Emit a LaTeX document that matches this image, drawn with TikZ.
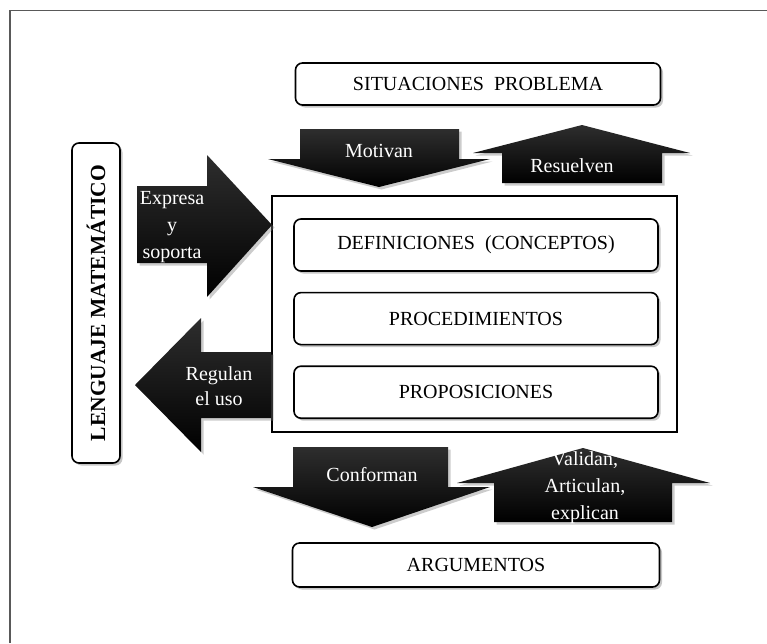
\documentclass[tikz,border=0pt]{standalone}
\usepackage{fontspec}
\setmainfont{Liberation Serif}
\usetikzlibrary{shadows,positioning}

\tikzset{
  box/.style={draw, line width=1.6pt, rounded corners=7pt, fill=white, inner sep=0pt,
    drop shadow={opacity=0.45, shadow xshift=2.5pt, shadow yshift=-2.5pt},
    font=\fontsize{20}{24}\selectfont},
  blockarrow/.style={top color=black!82, middle color=black, bottom color=black,
    drop shadow={opacity=0.4, shadow xshift=2.5pt, shadow yshift=-2.5pt}},
  arrowtext/.style={text=white, align=center, inner sep=0pt, font=\fontsize{20}{27}\selectfont}
}

\begin{document}
\begin{tikzpicture}[x=1pt, y=-1pt]
\useasboundingbox (0,0) rectangle (767,643);

% frame
\draw[black!65, line width=1.5pt] (10,643) -- (10,10.5) -- (767,10.5);

% boxes
\node[box, minimum width=365pt, minimum height=42pt] (sit) at (478,84) {SITUACIONES~~PROBLEMA};
\node[draw, line width=1.2pt, minimum width=405pt, minimum height=236pt] (marco) at (474.5,314) {};
\node[box, minimum width=364pt, minimum height=52pt] (defi) at (476,245) {DEFINICIONES~~(CONCEPTOS)};
\node[box, minimum width=364pt, minimum height=52pt, below=20pt of defi] (proc) {PROCEDIMIENTOS};
\node[box, minimum width=364pt, minimum height=52pt, below=20pt of proc] (prop) {PROPOSICIONES};
\node[box, minimum width=367pt, minimum height=44pt] (arg) at (476,565) {ARGUMENTOS};
\node[box, rotate=90, minimum width=320pt, minimum height=48pt,
  font=\bfseries\fontsize{21.5}{24}\selectfont] (leng) at (96,303) {LENGUAJE MATEMÁTICO};

% block arrows
\path[blockarrow] (300,129) -- (459,129) -- (459,159) -- (490,159) -- (379,187) -- (268,159) -- (300,159) -- cycle;
\node[arrowtext] (motivan) at (379,151) {Motivan};

\path[blockarrow] (582,125) -- (690,153) -- (662,153) -- (662,183) -- (502,183) -- (502,153) -- (473,153) -- cycle;
\node[arrowtext] (resuelven) at (572,166) {Resuelven};

\path[blockarrow] (137,186) -- (207,186) -- (207,155) -- (272,225) -- (207,297) -- (207,263) -- (137,263) -- cycle;
\node[arrowtext] (expresa) at (172,227) {Expresa\\y\\soporta};

\path[blockarrow] (135,385) -- (201,318) -- (201,352) -- (271,352) -- (271,418) -- (201,418) -- (201,452) -- cycle;
\node[arrowtext, font=\fontsize{20}{25}\selectfont] (regulan) at (219,386) {Regulan\\el uso};

\path[blockarrow] (293,447) -- (448,447) -- (448,487) -- (490,487) -- (372,527) -- (253,487) -- (293,487) -- cycle;
\node[arrowtext] (conforman) at (372,475) {Conforman};

\path[blockarrow] (583,448) -- (710,483) -- (672,483) -- (672,522) -- (494,522) -- (494,483) -- (457,483) -- cycle;
\node[arrowtext] (validan) at (585,488) {Validan,\\Articulan,\\explican};
\end{tikzpicture}
\end{document}
